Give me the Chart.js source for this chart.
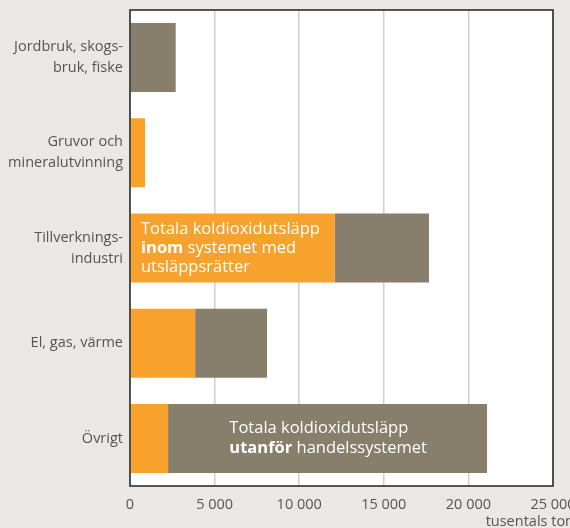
<!DOCTYPE html>
<html>
<head>
<meta charset="utf-8">
<script src="https://cdn.jsdelivr.net/npm/chart.js@4"></script>
<style>
  html, body { margin: 0; padding: 0; background: #e9e8e4; }
  #wrap { width: 570px; height: 528px; }
</style>
</head>
<body>
<div id="wrap"><canvas id="utslappChart" width="570" height="528"></canvas></div>
<script>
const categories = [['Jordbruk, skogs-', 'bruk, fiske'], ['Gruvor och', 'mineralutvinning'], ['Tillverknings-', 'industri'], 'El, gas, värme', 'Övrigt'];
const inom = [0, 890, 12100, 3850, 2250];
const utanfor = [2700, 0, 5570, 4250, 18850];
const xTicks = [0, 5000, 10000, 15000, 20000, 25000];

const fontFam = "'Open Sans', sans-serif";

const frame = {
    id: 'frame',
    beforeDraw(chart) {
        const c = chart.ctx, a = chart.chartArea;
        c.save();
        c.fillStyle = '#e9e8e4';
        c.fillRect(0, 0, chart.width, chart.height);
        c.fillStyle = '#ffffff';
        c.fillRect(a.left, a.top, a.right - a.left, a.bottom - a.top);
        c.restore();
    },
    afterDraw(chart) {
        const c = chart.ctx, a = chart.chartArea;
        const x = chart.scales.x, y = chart.scales.y;
        c.save();
        c.strokeStyle = '#222';
        c.lineWidth = 1.5;
        c.strokeRect(a.left, a.top, a.right - a.left, a.bottom - a.top);

        // text inside bars
        const fs = '16.5px ';
        c.fillStyle = '#ffffff';
        c.textBaseline = 'middle';
        c.textAlign = 'left';
        const lx = x.getPixelForValue(0) + 11;
        const ty = y.getPixelForValue(2);
        c.font = fs + fontFam;
        c.fillText('Totala koldioxidutsläpp', lx, ty - 19);
        c.font = 'bold ' + fs + fontFam;
        c.fillText('inom', lx, ty);
        const w = c.measureText('inom ').width;
        c.font = fs + fontFam;
        c.fillText('systemet med', lx + w, ty);
        c.fillText('utsläppsrätter', lx, ty + 19);

        const ox = x.getPixelForValue(5870);
        const oy = y.getPixelForValue(4);
        c.fillText('Totala koldioxidutsläpp', ox, oy - 10);
        c.font = 'bold ' + fs + fontFam;
        c.fillText('utanför', ox, oy + 10);
        const w2 = c.measureText('utanför ').width;
        c.font = fs + fontFam;
        c.fillText('handelssystemet', ox + w2, oy + 10);

        // unit label
        c.fillStyle = '#555';
        c.textAlign = 'right';
        c.font = '14.5px ' + fontFam;
        c.fillText('tusentals ton', 574, 522);
        c.restore();
    }
};

new Chart(document.getElementById('utslappChart').getContext('2d'), {
    type: 'bar',
    data: {
        labels: categories,
        datasets: [{
            label: 'Inom systemet',
            data: inom,
            backgroundColor: '#f8a22e',
            barPercentage: 0.725,
            categoryPercentage: 1
        }, {
            label: 'Utanför systemet',
            data: utanfor,
            backgroundColor: '#877e6c',
            barPercentage: 0.725,
            categoryPercentage: 1
        }]
    },
    plugins: [frame],
    options: {
        indexAxis: 'y',
        responsive: false,
        animation: false,
        layout: { padding: { top: 10, right: 17, left: 0, bottom: 0 } },
        plugins: { legend: { display: false }, tooltip: { enabled: false } },
        scales: {
            x: {
                stacked: true,
                min: 0,
                max: 25000,
                afterBuildTicks(scale) { scale.ticks = xTicks.map(v => ({ value: v })); },
                afterFit(scale) { scale.height = 42; scale.paddingLeft = 0; scale.paddingRight = 0; },
                border: { display: false },
                grid: { color: '#d0d0d0', lineWidth: 1.5, drawTicks: false },
                ticks: {
                    color: '#555',
                    padding: 10,
                    maxRotation: 0,
                    font: { family: fontFam, size: 14.5 },
                    callback: v => String(v).replace(/\B(?=(\d{3})+(?!\d))/g, ' ')
                }
            },
            y: {
                stacked: true,
                afterFit(scale) { scale.width = 130; scale.paddingTop = 0; scale.paddingBottom = 0; },
                border: { display: false },
                grid: { display: false, drawTicks: false },
                ticks: {
                    color: '#555',
                    padding: 7,
                    font: { family: fontFam, size: 14.5, lineHeight: 1.45 }
                }
            }
        }
    }
});
</script>
</body>
</html>
